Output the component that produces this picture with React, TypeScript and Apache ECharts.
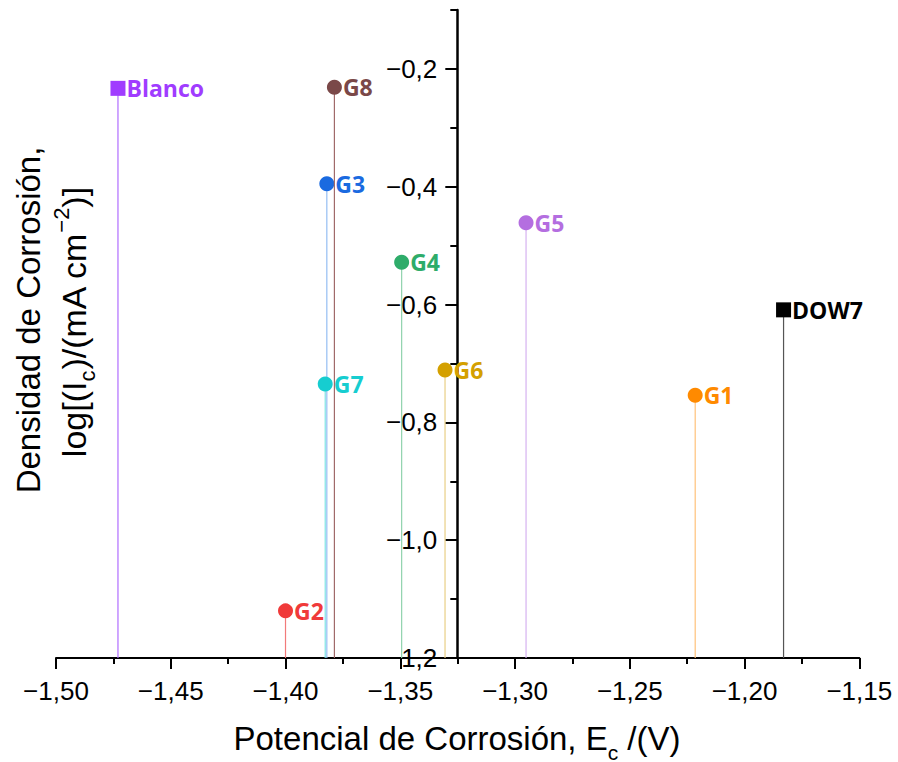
import React, { useEffect, useRef } from "react";
import * as echarts from "echarts";

const samples = ["Blanco", "G1", "G2", "G3", "G4", "G5", "G6", "G7", "G8", "DOW7"];
const ecorr = [-1.473, -1.2215, -1.4, -1.382, -1.3494, -1.2952, -1.3305, -1.3827, -1.3787, -1.183];
const logIcorr = [-0.233, -0.754, -1.12, -0.395, -0.528, -0.461, -0.711, -0.735, -0.231, -0.609];
const markerShapes = ["rect", "circle", "circle", "circle", "circle", "circle", "circle", "circle", "circle", "rect"];
const markerColors = ["#a03cff", "#ff8a00", "#f03a3a", "#1a6ae0", "#2eac6a", "#b46ee0", "#d4a000", "#16cdd0", "#7a4848", "#000000"];
const dropColors = ["#b06cff", "#ffc27a", "#f27a7a", "#94bdf3", "#8fd2ad", "#d6b2f0", "#e8cf85", "#7fe3e5", "#a06a6a", "#555555"];

const xTicks = [-1.5, -1.45, -1.4, -1.35, -1.3, -1.25, -1.2, -1.15];
const yTicks = [-1.2, -1.0, -0.8, -0.6, -0.4, -0.2];
const yMin = -1.2;
const yMax = -0.1;

const AXIS_FONT = "'Liberation Sans', Arial, sans-serif";
const fmt = (v: number, d: number) => v.toFixed(d).replace("-", "\u2212").replace(".", ",");

export default function App() {
  const ref = useRef<HTMLDivElement>(null);
  useEffect(() => {
    if (!ref.current) return;
    const chart = echarts.init(ref.current, undefined, { renderer: "svg" });
    const gridLeft = 56;
    const gridWidth = 803.3;
    const yAxisPx = 457.3;
    const yOffset = -(yAxisPx - gridLeft);

    const series: any[] = samples.map((name, i) => ({
      type: "line",
      name,
      silent: true,
      z: 2 + i,
      xAxisIndex: 0,
      yAxisIndex: 0,
      lineStyle: { color: dropColors[i], width: 1.2 },
      itemStyle: { color: markerColors[i] },
      emphasis: { disabled: true },
      data: [
        { value: [ecorr[i], yMin], symbol: "none" },
        {
          value: [ecorr[i], logIcorr[i]],
          symbol: markerShapes[i],
          symbolSize: 15,
          label: {
            show: true,
            position: "right",
            distance: 1,
            formatter: name,
            color: markerColors[i],
            fontWeight: "bold",
            fontSize: 23,
            fontFamily: "'Open Sans', sans-serif",
          },
        },
      ],
    }));

    chart.setOption({
      animation: false,
      backgroundColor: "#ffffff",
      grid: { left: gridLeft, top: 10, width: gridWidth, bottom: 104 },
      xAxis: {
        type: "value",
        min: -1.5,
        max: -1.15,
        interval: 0.05,
        splitLine: { show: false },
        axisLine: { lineStyle: { color: "#000", width: 2 } },
        axisTick: { length: 11, lineStyle: { color: "#000", width: 2 } },
        minorTick: { show: true, splitNumber: 2, length: 6, lineStyle: { color: "#000", width: 2 } },
        axisLabel: {
          customValues: xTicks,
          fontSize: 26,
          color: "#000",
          fontFamily: AXIS_FONT,
          margin: 20,
          formatter: (v: number) => fmt(v, 2),
        },
      },
      yAxis: [
        {
          type: "value",
          min: yMin,
          max: yMax,
          interval: 0.1,
          position: "left",
          offset: yOffset,
          splitLine: { show: false },
          axisLine: { show: true, lineStyle: { color: "#000", width: 2.5 } },
          axisTick: { show: true, length: 7, lineStyle: { color: "#000", width: 2 } },
          axisLabel: { show: false },
        },
        {
          type: "value",
          min: yMin,
          max: yMax,
          interval: 0.2,
          position: "left",
          offset: yOffset,
          splitLine: { show: false },
          axisLine: { show: false },
          axisTick: { show: true, length: 12, customValues: yTicks, lineStyle: { color: "#000", width: 2 } },
          axisLabel: {
            customValues: yTicks,
            fontSize: 26,
            color: "#000",
            fontFamily: AXIS_FONT,
            margin: 20,
            formatter: (v: number) => (Math.abs(v - yMax) < 1e-9 ? "" : fmt(v, 1)),
          },
        },
      ],
      series,
      graphic: [
        {
          type: "text",
          x: 457,
          y: 738,
          silent: true,
          style: {
            text: "{a|Potencial de Corrosión, E}{sub|c}{a| /(V)}",
            textAlign: "center",
            textVerticalAlign: "middle",
            fill: "#000",
            font: `33px ${AXIS_FONT}`,
            rich: {
              a: { fontSize: 33, fontFamily: AXIS_FONT, fill: "#000", lineHeight: 36 },
              sub: { fontSize: 21, fontFamily: AXIS_FONT, fill: "#000", lineHeight: 21, padding: [28, 0, 0, 0] },
            },
          },
        },
        {
          type: "text",
          x: 28,
          y: 320,
          rotation: Math.PI / 2,
          silent: true,
          style: {
            text: "Densidad de Corrosión,",
            textAlign: "center",
            textVerticalAlign: "middle",
            fill: "#000",
            font: `33px ${AXIS_FONT}`,
          },
        },
        {
          type: "text",
          x: 74,
          y: 322,
          rotation: Math.PI / 2,
          silent: true,
          style: {
            text: "{a|log[(I}{sub|c}{a|)/(mA cm}{sup|\u22122}{a|)]}",
            textAlign: "center",
            textVerticalAlign: "middle",
            fill: "#000",
            font: `34px ${AXIS_FONT}`,
            rich: {
              a: { fontSize: 34, fontFamily: AXIS_FONT, fill: "#000", lineHeight: 36 },
              sub: { fontSize: 22, fontFamily: AXIS_FONT, fill: "#000", lineHeight: 22, padding: [26, 0, 0, 0] },
              sup: { fontSize: 22, fontFamily: AXIS_FONT, fill: "#000", lineHeight: 22, padding: [0, 0, 26, 0] },
            },
          },
        },
      ],
    });
    return () => chart.dispose();
  }, []);
  return <div ref={ref} style={{ position: "fixed", left: 0, top: 0, width: 898, height: 762, background: "#fff" }} />;
}
